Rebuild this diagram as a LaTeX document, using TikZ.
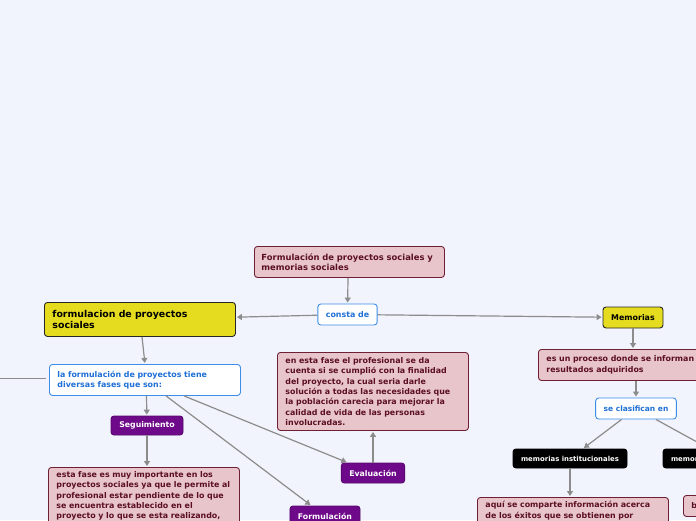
\documentclass[tikz,border=0pt]{standalone}
\usepackage{fontspec}
\setmainfont{DejaVu Sans}
\usetikzlibrary{arrows.meta}
\definecolor{bgc}{HTML}{F2F4FD}
\definecolor{pinkf}{HTML}{E7C5CB}
\definecolor{pinkd}{HTML}{6E1F33}
\definecolor{pinkt}{HTML}{5C0F22}
\definecolor{blueb}{HTML}{3C8DE6}
\definecolor{bluet}{HTML}{1E6FD6}
\definecolor{yelf}{HTML}{E5DB1F}
\definecolor{purf}{HTML}{6E0A89}
\definecolor{linec}{HTML}{8C8C8C}
\tikzset{
  box/.style={rounded corners=3pt, line width=0.9pt, inner xsep=8pt, inner ysep=3pt, font=\bfseries\fontsize{7.9}{10.3}\selectfont},
  pinkbox/.style={box, fill=pinkf, draw=pinkd, text=pinkt, align=left, anchor=north west},
  bluebox/.style={box, fill=white, draw=blueb, text=bluet},
  yelbox/.style={box, fill=yelf, draw=black!85, text=black},
  purbox/.style={box, fill=purf, draw=purf!80!black, text=white, font=\bfseries\fontsize{7.8}{9}\selectfont},
  blkbox/.style={box, fill=black, draw=black, text=white, font=\bfseries\fontsize{6.9}{8}\selectfont},
  conn/.style={draw=linec, line width=1.2pt, -{Triangle[length=5pt,width=6pt]}, shorten >=1pt},
  plain/.style={draw=linec, line width=1.2pt, shorten >=3pt}
}
\begin{document}
\begin{tikzpicture}[x=1pt,y=-1pt]
\fill[bgc] (0,0) rectangle (696,520);
\useasboundingbox (0,0) rectangle (696,520);
\clip (0,0) rectangle (696,520);

% nodes
\node[pinkbox, text width=176pt, minimum width=190pt, minimum height=31pt, inner xsep=7pt, font=\bfseries\fontsize{8.4}{10.4}\selectfont] (root) at (254,246) {Formulación de proyectos sociales y\\memorias sociales};
\node[bluebox, minimum width=57pt, minimum height=21pt] (consta) at (347.5,314.5) {consta de};
\node[yelbox, anchor=north west, align=left, text width=175pt, minimum width=191pt, minimum height=34pt, font=\bfseries\fontsize{9.4}{11.2}\selectfont] (form) at (44,302) {formulacion de proyectos\\sociales};
\node[bluebox, anchor=north west, align=left, text width=175pt, minimum width=191pt, minimum height=31pt] (fases) at (49,364) {la formulación de proyectos tiene\\diversas fases que son:};
\node[purbox, minimum width=72pt, minimum height=19pt] (seg) at (147,425.5) {Seguimiento};
\node[pinkbox, text width=175pt, minimum width=191pt, anchor=north west, inner ysep=4pt] (segt) at (48,467) {esta fase es muy importante en los\\proyectos sociales ya que le permite al\\profesional estar pendiente de lo que\\se encuentra establecido en el\\proyecto y lo que se esta realizando,};
\node[purbox, minimum width=60pt, minimum height=20pt] (eval) at (373,473) {Evaluación};
\node[pinkbox, text width=175pt, minimum width=191pt, minimum height=78pt, inner ysep=4pt] (evalt) at (277,352) {en esta fase el profesional se da\\cuenta si se cumplió con la finalidad\\del proyecto, la cual seria darle\\solución a todas las necesidades que\\la población carecia para mejorar la\\calidad de vida de las personas\\involucradas.};
\node[purbox, minimum width=66pt, minimum height=20pt] (formu) at (325,516) {Formulación};
\node[yelbox, minimum width=60pt, minimum height=21pt] (mem) at (633,317.5) {Memorias};
\node[pinkbox, text width=175pt, minimum width=191pt, minimum height=31pt] (proc) at (538,349) {es un proceso donde se informan\\resultados adquiridos};
\node[bluebox, minimum width=80pt, minimum height=21pt, font=\bfseries\fontsize{7.5}{9}\selectfont] (clas) at (636,408.5) {se clasifican en};
\node[blkbox, minimum width=114pt, minimum height=19pt] (inst) at (570,458.5) {memorias institucionales};
\node[blkbox, minimum width=128pt, minimum height=19pt, text width=112pt, align=left] (memor) at (727,458.5) {memorias};
\node[pinkbox, text width=175pt, minimum width=191pt, inner ysep=4pt] (aqui) at (477,497) {aquí se comparte información acerca\\de los éxitos que se obtienen por};
\node[pinkbox, text width=80pt, minimum width=96pt, minimum height=21pt] (bt) at (683,495) {b};
\coordinate (lft) at (-10,378.5);

% connectors
\draw[conn] (root.south -| 348,0) -- (consta);
\draw[conn] (consta) -- (form);
\draw[conn] (consta) -- (mem);
\draw[conn] (form.south -| 142,0) -- (fases.north -| 145,0);
\draw[plain] (lft) -- (lft -| fases.west);
\draw[conn] (fases.south -| 146.5,0) -- (seg);
\draw[conn] (fases) -- (eval);
\draw[conn] (fases) -- (formu);
\draw[conn] (seg) -- (segt.north -| seg);
\draw[conn] (eval) -- (evalt.south -| eval);
\draw[conn] (mem) -- (proc.north -| mem);
\draw[conn] (proc.south -| clas) -- (clas);
\draw[conn] (clas) -- (inst);
\draw[conn] (clas) -- (memor);
\draw[conn] (inst) -- (aqui.north -| inst);
\end{tikzpicture}
\end{document}
